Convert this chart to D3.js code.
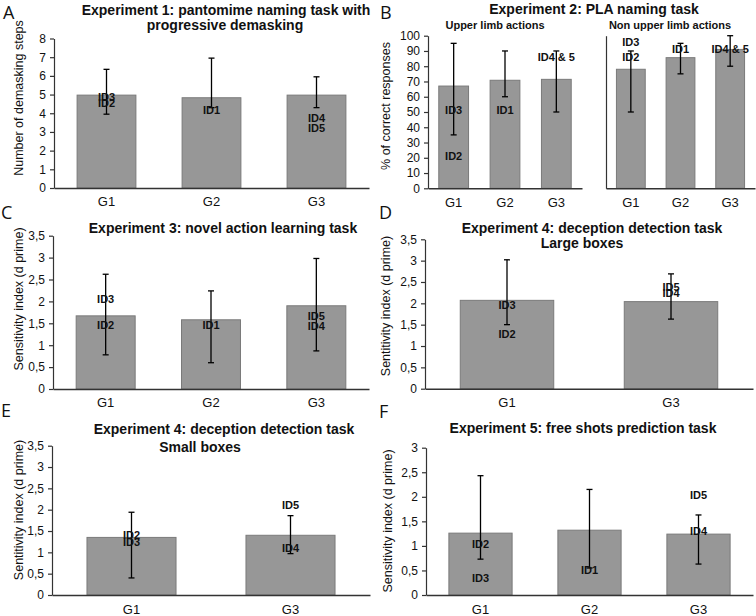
<!DOCTYPE html>
<html><head><meta charset="utf-8">
<script src="https://cdn.jsdelivr.net/npm/d3@7"></script>
<style>body{margin:0;background:#fff}svg{display:block}</style>
</head><body>
<svg id="c" width="756" height="616"></svg>
<script>
// ---------- DATA ----------
const groups3 = ["G1","G2","G3"];
const groups2 = ["G1","G3"];

// Panel A: Experiment 1
const meanA = [4.97, 4.83, 4.97];
const errHiA = [6.35, 6.95, 5.95];
const errLoA = [3.95, 4.3, 4.3];
const idTextA = [["ID3","ID2"],["ID1"],["ID4","ID5"]];
const idValA = [[4.87,4.53],[4.17],[3.73,3.19]];
const yTicksA = [0,1,2,3,4,5,6,7,8];

// Panel B: Experiment 2 (upper limb / non upper limb)
const meanBu = [67.0, 70.8, 71.4];
const errHiBu = [95, 90, 90];
const errLoBu = [35, 60, 50];
const idTextBu = [["ID3","ID2"],["ID1"],["ID4 & 5"]];
const idValBu = [[51.3,21.3],[51.3],[85.7]];
const meanBn = [78.0, 85.6, 91.0];
const errHiBn = [90, 95, 100];
const errLoBn = [50, 75, 80];
const idTextBn = [["ID3","ID2"],["ID1"],["ID4 & 5"]];
const idValBn = [[96.1,85.7],[91],[91]];
const yTicksB = [0,10,20,30,40,50,60,70,80,90,100];

// Panel C: Experiment 3
const meanC = [1.67, 1.58, 1.90];
const errHiC = [2.62, 2.24, 2.98];
const errLoC = [0.78, 0.60, 0.87];
const idTextC = [["ID3","ID2"],["ID1"],["ID5","ID4"]];
const idValC = [[2.05,1.46],[1.46],[1.67,1.445]];
const yTicksC = [0,0.5,1,1.5,2,2.5,3,3.5];

// Panel D: Experiment 4 large boxes
const meanD = [2.07, 2.04];
const errHiD = [3.02, 2.69];
const errLoD = [1.50, 1.63];
const idTextD = [["ID3","ID2"],["ID5","ID4"]];
const idValD = [[1.97,1.28],[2.37,2.23]];
const yTicksD = [0,0.5,1,1.5,2,2.5,3,3.5];

// Panel E: Experiment 4 small boxes
const meanE = [1.35, 1.40];
const errHiE = [1.94, 1.86];
const errLoE = [0.40, 0.97];
const idTextE = [["ID2","ID3"],["ID5","ID4"]];
const idValE = [[1.40,1.25],[2.11,1.09]];
const yTicksE = [0,0.5,1,1.5,2,2.5,3,3.5];

// Panel F: Experiment 5
const meanF = [1.26, 1.32, 1.24];
const errHiF = [2.43, 2.15, 1.63];
const errLoF = [0.73, 0.55, 0.63];
const idTextF = [["ID2","ID3"],["ID1"],["ID5","ID4"]];
const idValF = [[1.03,0.34],[0.51],[2.03,1.31]];
const yTicksF = [0,0.5,1,1.5,2,2.5,3];

// ---------- DRAWING ----------
const svg = d3.select("#c");
svg.append("rect").attr("width",756).attr("height",616).attr("fill","#fff");
const FONT = "'Liberation Sans', Arial, sans-serif";
const fmt = d => String(d).replace(".", ",");

function drawSub(opt){
  const g = svg.append("g");
  const x = d3.scaleBand().domain(opt.cats).range([opt.x0, opt.x1]).paddingInner(opt.pad).paddingOuter(opt.pad/2);
  const y = d3.scaleLinear().domain([0, opt.yMax]).range([opt.yb, opt.yt]);
  // bars
  g.selectAll("rect.bar").data(opt.cats).join("rect")
    .attr("x", d => x(d)).attr("width", x.bandwidth())
    .attr("y", (d,i) => y(opt.mean[i])).attr("height", (d,i) => y(0) - y(opt.mean[i]))
    .attr("fill", "#979797").attr("stroke", "#7a7a7a").attr("stroke-width", 1);
  // y axis
  const ya = d3.axisLeft(y).tickValues(opt.ticks).tickSize(opt.showTickLabels ? 4 : 0).tickSizeOuter(0).tickPadding(4).tickFormat(opt.showTickLabels ? fmt : () => "");
  const yg = g.append("g").attr("transform", `translate(${opt.x0},0)`).call(ya);
  yg.selectAll("path,line").attr("stroke","#333").attr("stroke-width",1.2);
  yg.selectAll("text").attr("font-family",FONT).attr("font-size",12).attr("fill","#111");
  // x axis
  const xa = d3.axisBottom(x).tickSize(0).tickSizeOuter(0).tickPadding(opt.xPad || 9);
  const xg = g.append("g").attr("transform", `translate(0,${opt.yb})`).call(xa);
  xg.select("path").attr("stroke","#333").attr("stroke-width",1.5);
  xg.selectAll("text").attr("font-family",FONT).attr("font-size",13).attr("fill","#111");
  // error bars
  const cx = d => x(d) + x.bandwidth()/2;
  opt.cats.forEach((c,i) => {
    const xc = cx(c);
    g.append("line").attr("x1",xc).attr("x2",xc).attr("y1",y(opt.hi[i])).attr("y2",y(opt.lo[i]))
      .attr("stroke","#000").attr("stroke-width",1.3);
    [opt.hi[i], opt.lo[i]].forEach(v => {
      g.append("line").attr("x1",xc-3).attr("x2",xc+3).attr("y1",y(v)).attr("y2",y(v))
        .attr("stroke","#000").attr("stroke-width",1.3);
    });
    opt.idText[i].forEach((t,j) => {
      g.append("text").attr("x",xc).attr("y",y(opt.idVal[i][j])).attr("dy","0.36em")
        .attr("text-anchor","middle").attr("font-family",FONT).attr("font-weight","bold")
        .attr("font-size",11).attr("fill","#111").text(t);
    });
  });
}

function text(x, y, s, size, bold, anchor, rot){
  const t = svg.append("text").attr("x",x).attr("y",y).attr("font-family",FONT)
    .attr("font-size",size).attr("font-weight",bold?"bold":"normal").attr("fill","#111")
    .attr("text-anchor",anchor||"middle").text(s);
  if (rot) t.attr("transform",`rotate(-90,${x},${y})`).attr("dy","0.35em");
  return t;
}
function letter(x,y,s){
  svg.append("text").attr("x",x).attr("y",y).attr("font-family","'Open Sans', 'Noto Sans', sans-serif")
    .attr("font-size",18).attr("fill","#111").text(s);
}

// Panel A
drawSub({cats:groups3, mean:meanA, hi:errHiA, lo:errLoA, idText:idTextA, idVal:idValA,
  ticks:yTicksA, yMax:8, x0:54, x1:369, yb:188, yt:38.5, pad:0.44, showTickLabels:true});
text(226,15,"Experiment 1: pantomime naming task with",14,true);
text(225,30,"progressive demasking",14,true);
text(19,98,"Number of demasking steps",12.5,false,"middle",true);
letter(3,19,"A");

// Panel B
drawSub({cats:groups3, mean:meanBu, hi:errHiBu, lo:errLoBu, idText:idTextBu, idVal:idValBu,
  ticks:yTicksB, yMax:100, x0:428, x1:582, yb:188.3, yt:35.7, pad:0.42, showTickLabels:true});
drawSub({cats:groups3, mean:meanBn, hi:errHiBn, lo:errLoBn, idText:idTextBn, idVal:idValBn,
  ticks:yTicksB, yMax:100, x0:606, x1:755, yb:188.3, yt:35.7, pad:0.42, showTickLabels:false});
text(594,14,"Experiment 2: PLA naming task",14,true);
text(495,29,"Upper limb actions",11,true);
text(670,29,"Non upper limb actions",11,true);
text(386,106,"% of correct responses",12.5,false,"middle",true);
letter(380,19,"B");

// Panel C
drawSub({cats:groups3, mean:meanC, hi:errHiC, lo:errLoC, idText:idTextC, idVal:idValC,
  ticks:yTicksC, yMax:3.5, x0:53, x1:369, yb:389, yt:235.7, pad:0.44, showTickLabels:true});
text(223,233,"Experiment 3: novel action learning task",14,true);
text(19,299,"Sensitivity index (d prime)",12.5,false,"middle",true);
letter(1,219,"C");

// Panel D
drawSub({cats:groups2, mean:meanD, hi:errHiD, lo:errLoD, idText:idTextD, idVal:idValD,
  ticks:yTicksD, yMax:3.5, x0:425, x1:753, yb:388.7, yt:239.3, pad:0.43, showTickLabels:true});
text(592,233,"Experiment 4: deception detection task",14,true);
text(582,248,"Large boxes",14,true);
text(386,306,"Sentitivity index (d prime)",12.5,false,"middle",true);
letter(379,219,"D");

// Panel E
drawSub({cats:groups2, mean:meanE, hi:errHiE, lo:errLoE, idText:idTextE, idVal:idValE,
  ticks:yTicksE, yMax:3.5, x0:52, x1:370, yb:595, yt:445.7, pad:0.44, showTickLabels:true, xPad:10});
text(224,434,"Experiment 4: deception detection task",14,true);
text(200,452,"Small boxes",14,true);
text(19,510,"Sentitivity index (d prime)",12.5,false,"middle",true);
letter(1,417,"E");

// Panel F
drawSub({cats:groups3, mean:meanF, hi:errHiF, lo:errLoF, idText:idTextF, idVal:idValF,
  ticks:yTicksF, yMax:3, x0:426, x1:753, yb:595, yt:447.7, pad:0.42, showTickLabels:true, xPad:10});
text(583,433,"Experiment 5: free shots prediction task",14,true);
text(388,521,"Sensitivity index (d prime)",12.5,false,"middle",true);
letter(379,418,"F");
</script>
</body></html>
